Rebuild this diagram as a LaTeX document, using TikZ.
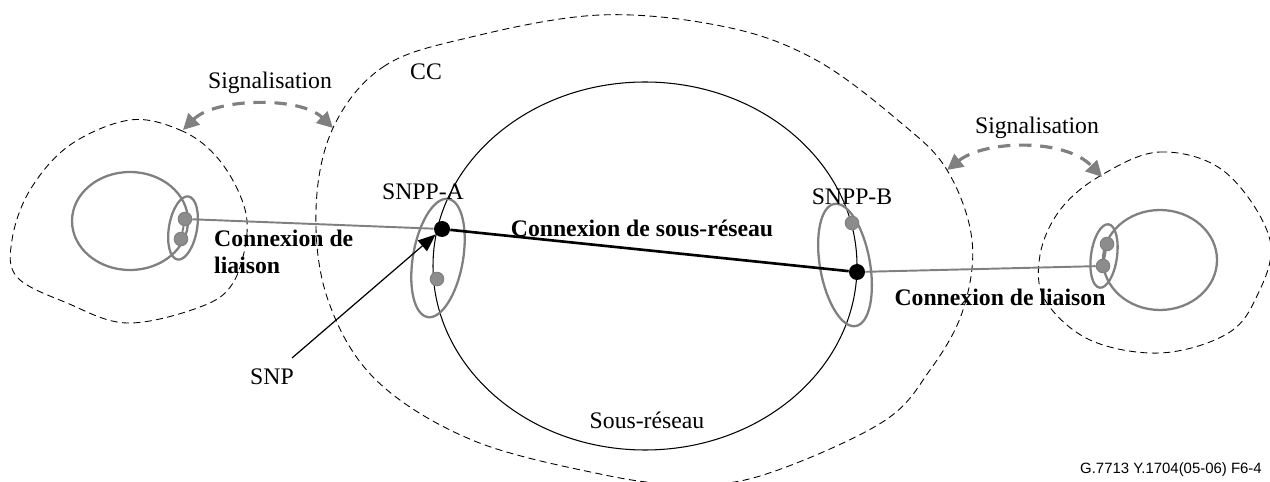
\documentclass[tikz,border=0pt]{standalone}
\usepackage{fontspec}
\setmainfont{Liberation Serif}
\newfontfamily\footfont{Liberation Sans}
\usetikzlibrary{arrows.meta}
\definecolor{linkgray}{RGB}{128,128,128}
\definecolor{dotgray}{RGB}{140,140,140}
\tikzset{
  region/.style={black, dashed, dash pattern=on 4pt off 2.5pt, line width=0.5pt},
  subnet/.style={black, line width=0.6pt},
  netgray/.style={linkgray, line width=1.3pt},
  link/.style={linkgray, line width=1.1pt},
  snconn/.style={black, line width=1.5pt},
  gdot/.style={circle, fill=dotgray, draw=linkgray, line width=0.6pt, inner sep=0pt, minimum size=0.27cm},
  bdot/.style={circle, fill=black, inner sep=0pt, minimum size=0.32cm},
  lbl/.style={font=\fontsize{13.5}{16}\selectfont},
  blbl/.style={font=\fontsize{13.5}{15}\selectfont\bfseries, align=left},
  sigarrow/.style={linkgray, line width=1.8pt, dash pattern=on 7pt off 5pt,
    {Triangle[length=9pt,width=9pt]}-{Triangle[length=9pt,width=9pt]}}
}
\begin{document}
\begin{tikzpicture}[x=0.02cm, y=-0.02cm, line join=round, line cap=butt]
			\useasboundingbox (0,0) rectangle (1270,482);
			\clip (0,0) rectangle (1270,482);
			
			\draw[region] plot[smooth cycle, tension=0.6] coordinates {(130,120) (180,130) (215,155) (240,195) (247,233) (233,283) (200,307) (127,323) (67,303) (17,277) (12,240) (30,190) (70,145)};
			\draw[region] plot[smooth cycle, tension=0.6] coordinates {(333,128) (383,67) (467,38) (600,15) (726,27) (816,60) (900,122) (947,170) (972,240) (963,310) (930,370) (881,423) (760,476) (680,484) (600,474) (472,440) (376,380) (328,300) (316,210)};
			\draw[region] plot[smooth cycle, tension=0.6] coordinates {(1100,176) (1160,152) (1225,172) (1270,240) (1255,300) (1225,335) (1160,353) (1090,340) (1045,300) (1040,255) (1060,210)};
			
			\draw[subnet] (645,266) ellipse (212 and 184);
			\draw[netgray] (130,221) ellipse (58 and 49);
			\draw[netgray] (1160,260) ellipse (57 and 50);
			\draw[netgray, rotate around={-10:(183,228)}] (183,228) ellipse (14 and 32);
			\draw[netgray, rotate around={-8:(1104,256)}] (1104,256) ellipse (13 and 32);
			\draw[netgray, rotate around={-10:(438,258)}] (438,258) ellipse (25 and 60);
			\draw[netgray, rotate around={10:(845,265)}] (845,265) ellipse (25 and 62);
			
			\node[gdot] (l1) at (185,219) {};
			\node[gdot] (l2) at (181,239) {};
			\node[bdot] (snpA) at (442,229) {};
			\node[gdot] (a2) at (437,279) {};
			\node[gdot] (b1) at (852,223) {};
			\node[bdot] (snpB) at (857,272) {};
			\node[gdot] (r1) at (1107,244) {};
			\node[gdot] (r2) at (1103,266) {};
			
			\draw[link] (l1) -- (snpA);
			\draw[snconn] (snpA) -- (snpB);
			\draw[link] (snpB) -- (r2);
			\draw[link] (l1) -- (l2);
			\draw[link] (r1) -- (r2);
			
			\coordinate (snpfoot) at (292,358);
			\draw[black, line width=0.7pt, -{Triangle[length=10pt,width=8pt]}] (snpfoot) -- (snpA);
			
			\coordinate (sigL1) at (183,130); \coordinate (sigL2) at (333,128);
			\coordinate (sigR1) at (947,170); \coordinate (sigR2) at (1102,177);
			\draw[sigarrow] (sigL1) .. controls (215,98) and (300,96) .. (sigL2);
			\draw[sigarrow] (sigR1) .. controls (985,140) and (1065,138) .. (sigR2);
			
			\node[lbl] (sigLt) at (270,83) {Signalisation};
			\node[lbl] (sigRt) at (1037,128) {Signalisation};
			\node[lbl] (cc) at (426,72) {CC};
			\node[lbl] (snppA) at (423,192) {SNPP-A};
			\node[lbl] (snppB) at (852,197) {SNPP-B};
			\node[lbl] (snp) at (272,377) {SNP};
			\node[lbl] (sous) at (647,420) {Sous-réseau};
			\node[blbl] (scon) at (642,228) {Connexion de sous-réseau};
			\node[blbl, anchor=west] (lconL) at (208,252) {Connexion de\\liaison};
			\node[blbl] (lconR) at (1000,297) {Connexion de liaison};
			\node[font=\footfont\fontsize{8.5}{10}\selectfont, anchor=west] (fig) at (1074,470) {G.7713 Y.1704(05-06) F6-4};
\end{tikzpicture}
\end{document}
